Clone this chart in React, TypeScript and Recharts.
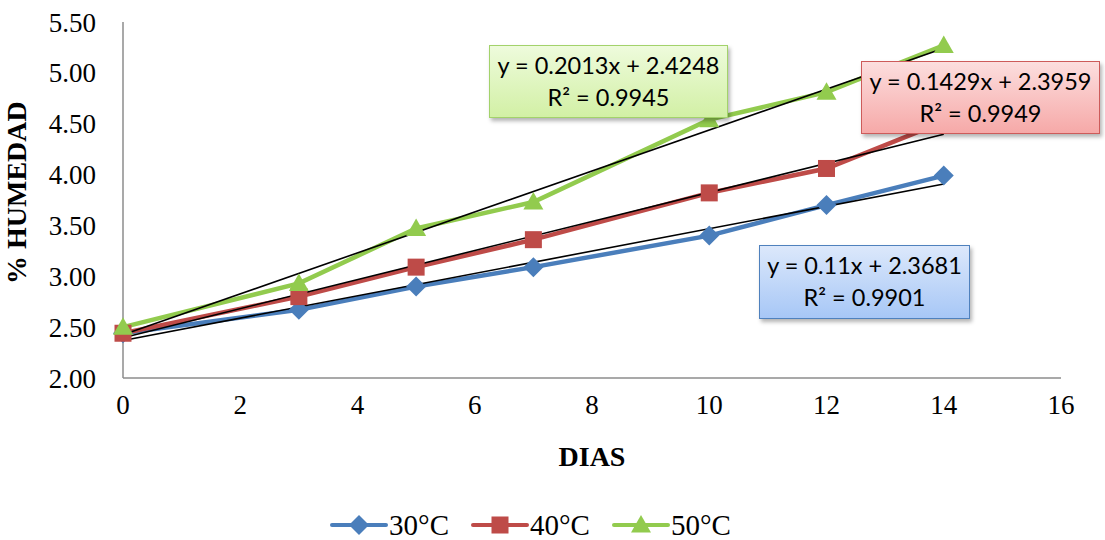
import React from "react";
import { LineChart, Line, XAxis, YAxis, Legend } from "recharts";

const dias = [0, 3, 5, 7, 10, 12, 14];
const hum30 = [2.44, 2.67, 2.9, 3.09, 3.4, 3.7, 3.99];
const hum40 = [2.44, 2.8, 3.09, 3.36, 3.82, 4.06, 4.52];
const hum50 = [2.5, 2.93, 3.47, 3.73, 4.54, 4.81, 5.27];
const seriesNames = ["30°C", "40°C", "50°C"];
const seriesColors = ["#4A7EBB", "#BE4B48", "#92CB4E"];
const trendSlopes = [0.11, 0.1429, 0.2013];
const trendIntercepts = [2.3681, 2.3959, 2.4248];
const trendR2 = ["0.9901", "0.9949", "0.9945"];
const xTicks = [0, 2, 4, 6, 8, 10, 12, 14, 16];
const yTicks = [2.0, 2.5, 3.0, 3.5, 4.0, 4.5, 5.0, 5.5];

const toPoints = (ys: number[]) => dias.map((x, i) => ({ x, y: ys[i] }));
const seriesData = [toPoints(hum30), toPoints(hum40), toPoints(hum50)];
const trendData = trendSlopes.map((m, i) => [
  { x: dias[0], y: trendIntercepts[i] + m * dias[0] },
  { x: dias[dias.length - 1], y: trendIntercepts[i] + m * dias[dias.length - 1] },
]);

const Marker = ({ kind, cx, cy, color }: any) => {
  if (cx == null || cy == null) return null;
  if (kind === 0) {
    const r = 10;
    return <polygon points={`${cx},${cy - r} ${cx + r},${cy} ${cx},${cy + r} ${cx - r},${cy}`} fill={color} />;
  }
  if (kind === 1) {
    const h = 8.5;
    return <rect x={cx - h} y={cy - h} width={2 * h} height={2 * h} fill={color} />;
  }
  const s = 10;
  return <polygon points={`${cx},${cy - s} ${cx + s},${cy + s * 0.75} ${cx - s},${cy + s * 0.75}`} fill={color} />;
};

const serif = "Liberation Serif, serif";

const LegendContent = () => (
  <div style={{ display: "flex", justifyContent: "center", alignItems: "center", gap: 22, paddingTop: 32, fontFamily: serif, fontSize: 29, color: "#000", lineHeight: "30px" }}>
    {seriesNames.map((n, i) => (
      <div key={n} style={{ display: "flex", alignItems: "center" }}>
        <svg width={58} height={24}>
          <line x1={2} y1={12} x2={56} y2={12} stroke={seriesColors[i]} strokeWidth={4} strokeLinecap="round" />
          <Marker kind={i} cx={29} cy={12} color={seriesColors[i]} />
        </svg>
        <span style={{ marginLeft: 1 }}>{n}</span>
      </div>
    ))}
  </div>
);

const boxStyles = [
  { left: 759, top: 245, width: 211, height: 74, bg: "linear-gradient(#DCE8FB, #A7C7F6)", border: "#4F81BD" },
  { left: 861, top: 61, width: 239, height: 73, bg: "linear-gradient(#FCDEDE, #F6A9A8)", border: "#CD5B5A" },
  { left: 489, top: 45, width: 239, height: 73, bg: "linear-gradient(#EEFBDC, #D2F0A5)", border: "#A3D26B" },
];

export default function App() {
  return (
    <div style={{ position: "absolute", left: 0, top: 0, width: 1105, height: 540, background: "#fff" }}>
      <LineChart width={1105} height={540} margin={{ top: 22, right: 44, bottom: 0, left: 0 }}>
        <XAxis
          dataKey="x"
          type="number"
          domain={[0, 16]}
          ticks={xTicks}
          tickLine={false}
          stroke="#8C8C8C"
          strokeWidth={1.5}
          tick={{ fill: "#000", fontSize: 27, fontFamily: serif }}
          tickMargin={11}
          height={100}
          label={{ value: "DIAS", position: "insideBottom", offset: 12, fill: "#000", fontSize: 28, fontWeight: "bold", fontFamily: serif }}
        />
        <YAxis
          type="number"
          domain={[2, 5.5]}
          ticks={yTicks}
          tickLine={false}
          stroke="#8C8C8C"
          strokeWidth={1.5}
          width={123}
          tickFormatter={(v: number) => v.toFixed(2)}
          tick={{ fill: "#000", fontSize: 27, fontFamily: serif }}
          tickMargin={21}
          label={{ value: "% HUMEDAD", angle: -90, position: "insideLeft", offset: 16, dy: 84, fill: "#000", fontSize: 28, fontWeight: "bold", fontFamily: serif }}
        />
        <Legend verticalAlign="bottom" height={62} content={<LegendContent />} />
        {seriesData.map((d, i) => (
          <Line
            key={seriesNames[i]}
            data={d}
            dataKey="y"
            name={seriesNames[i]}
            stroke={seriesColors[i]}
            strokeWidth={4.5}
            isAnimationActive={false}
            dot={(p: any) => <Marker key={`m${i}-${p.index}`} kind={i} cx={p.cx} cy={p.cy} color={seriesColors[i]} />}
            activeDot={false}
            legendType="none"
          />
        ))}
        {trendData.map((d, i) => (
          <Line
            key={`t${i}`}
            data={d}
            dataKey="y"
            stroke="#000"
            strokeWidth={1.6}
            dot={false}
            activeDot={false}
            isAnimationActive={false}
            legendType="none"
          />
        ))}
      </LineChart>
      {boxStyles.map((b, i) => (
        <div
          key={`box${i}`}
          style={{
            position: "absolute",
            left: b.left,
            top: b.top,
            width: b.width,
            height: b.height,
            boxSizing: "border-box",
            background: b.bg,
            border: `1.5px solid ${b.border}`,
            boxShadow: "2px 3px 4px rgba(0,0,0,0.3)",
            fontFamily: "Lato, 'Open Sans', sans-serif",
            fontSize: 23.5,
            lineHeight: "32px",
            color: "#000",
            textAlign: "center",
            paddingTop: 3,
            whiteSpace: "nowrap",
          }}
        >
          <div>{`y = ${trendSlopes[i]}x + ${trendIntercepts[i]}`}</div>
          <div>{`R² = ${trendR2[i]}`}</div>
        </div>
      ))}
    </div>
  );
}
